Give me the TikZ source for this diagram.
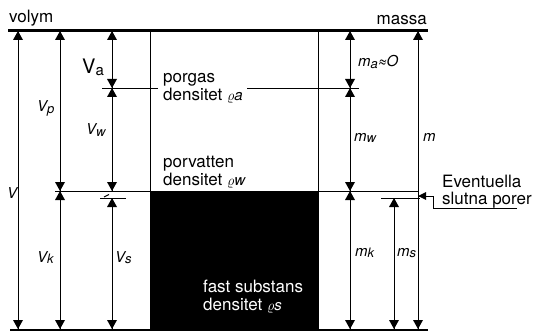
\documentclass[tikz,border=0pt]{standalone}
\usepackage{fontspec}
\setmainfont{TeX Gyre Heros}
\newcommand\ilab[2]{#1\raisebox{-1.5pt}{\fontsize{13}{13}\selectfont #2}}
\newcommand\dimline[2]{\draw[thinline] (#1) -- (#2); \path (#1) pic{tipup}; \path (#2) pic{tipdn};}
\begin{document}
\begin{tikzpicture}[x=1pt,y=-1pt,
  thinline/.style={line width=0.8pt},
  tipup/.pic={\fill (0,0) -- (-5,9) -- (5,9) -- cycle;},
  tipdn/.pic={\fill (0,0) -- (-5,-9) -- (5,-9) -- cycle;},
  lbl/.style={inner sep=0pt,anchor=base west,font=\fontsize{17}{17}\selectfont},
  ilbl/.style={inner sep=0pt,anchor=base west,font=\fontsize{15}{15}\selectfont\itshape}]
\useasboundingbox (0,0) rectangle (534,331);
% levels
\coordinate (top) at (0,31);
\coordinate (gas) at (0,88);
\coordinate (water) at (0,191);
\coordinate (pore) at (0,198);
\coordinate (bot) at (0,329);
% columns
\coordinate (cV) at (18,0);
\coordinate (cVp) at (60,0);
\coordinate (cVa) at (112,0);
\coordinate (cL) at (150,0);
\coordinate (cR) at (318,0);
\coordinate (cm) at (350,0);
\coordinate (cms) at (394,0);
\coordinate (cM) at (418,0);
% solid
\fill (cL|-water) rectangle (cR|-bot);
% frame
\draw[line width=1pt] (cL|-top) -- (cL|-bot);
\draw[line width=1pt] (cR|-top) -- (cR|-bot);
\coordinate (topL) at (8,31);
\coordinate (topR) at (428,31);
\coordinate (botL) at (10,329.5);
\coordinate (botR) at (428,329.5);
\draw[line width=3pt] (topL) -- (topR);
\draw[line width=2pt] (botL) -- (botR);
% level lines
\coordinate (g1) at (102,88);
\coordinate (g2) at (158,88);
\coordinate (g3) at (247,88);
\coordinate (g4) at (359,88);
\draw[thinline] (g1) -- (g2);
\draw[thinline] (g3) -- (g4);
\coordinate (w1) at (55,191);
\coordinate (w2) at (418,191);
\draw[thinline] (w1) -- (w2);
\coordinate (p1) at (100,198);
\coordinate (p2) at (126,198);
\coordinate (p3) at (381,198);
\coordinate (p4) at (420,198);
\draw[line width=1pt] (p1) -- (p2);
\draw[line width=1pt] (p3) -- (p4);
\coordinate (k1) at (104,197);
\coordinate (k2) at (109,194.5);
\draw[line width=1pt] (k1) -- (k2);
% dimension arrows, volume
\dimline{cV|-top}{cV|-bot}
\dimline{cVp|-top}{cVp|-water}
\dimline{cVp|-water}{cVp|-bot}
\dimline{cVa|-top}{cVa|-gas}
\dimline{cVa|-gas}{cVa|-water}
\dimline{cVa|-pore}{cVa|-bot}
% dimension arrows, mass
\dimline{cm|-top}{cm|-gas}
\dimline{cm|-gas}{cm|-water}
\dimline{cm|-water}{cm|-bot}
\dimline{cM|-top}{cM|-bot}
\dimline{cms|-pore}{cms|-bot}
% callout
\coordinate (c1) at (517,208);
\coordinate (c2) at (433,208);
\coordinate (c3) at (433,196);
\coordinate (c4) at (418,196);
\draw[thinline] (c1) -- (c2) -- (c3) -- (c4);
\fill (c4) -- ++(8,-4) -- ++(0,8) -- cycle;
% texts
\node[lbl] (volym) at (9,23) {volym};
\node[lbl,anchor=base east] (massa) at (427,25) {massa};
\node[inner sep=0pt,anchor=base west] (Va) at (82,74) {\fontsize{20}{20}\selectfont V\raisebox{-2pt}{\fontsize{15}{15}\selectfont a}};
\node[ilbl] (Vp) at (37,112) {\ilab{V}{p}};
\node[ilbl] (Vw) at (86,135) {\ilab{V}{w}};
\node[ilbl] (V) at (7,198) {V};
\node[ilbl] (Vk) at (37,262) {\ilab{V}{k}};
\node[ilbl] (Vs) at (115,262) {\ilab{V}{s}};
\node[ilbl] (ma) at (358,67) {\ilab{m}{a}≈O};
\node[ilbl] (mw) at (354,141) {\ilab{m}{w}};
\node[ilbl] (m) at (423,141) {m};
\node[ilbl] (mk) at (355,256) {\ilab{m}{k}};
\node[ilbl] (ms) at (397,256) {\ilab{m}{s}};
\node[lbl] (porgas) at (163,83) {porgas};
\node[lbl] (dens1) at (163,101) {densitet {\itshape\fontsize{15}{15}\selectfont$\varrho$a}};
\node[lbl] (porvatten) at (163,167) {porvatten};
\node[lbl] (dens2) at (163,185) {densitet {\itshape\fontsize{15}{15}\selectfont$\varrho$w}};
\node[lbl,text=white] (fast) at (203,292) {fast substans};
\node[lbl,text=white] (dens3) at (203,310) {densitet {\itshape\fontsize{15}{15}\selectfont$\varrho$s}};
\node[lbl] (ev) at (442,187) {Eventuella};
\node[lbl] (sl) at (442,204) {slutna porer};
\end{tikzpicture}
\end{document}
